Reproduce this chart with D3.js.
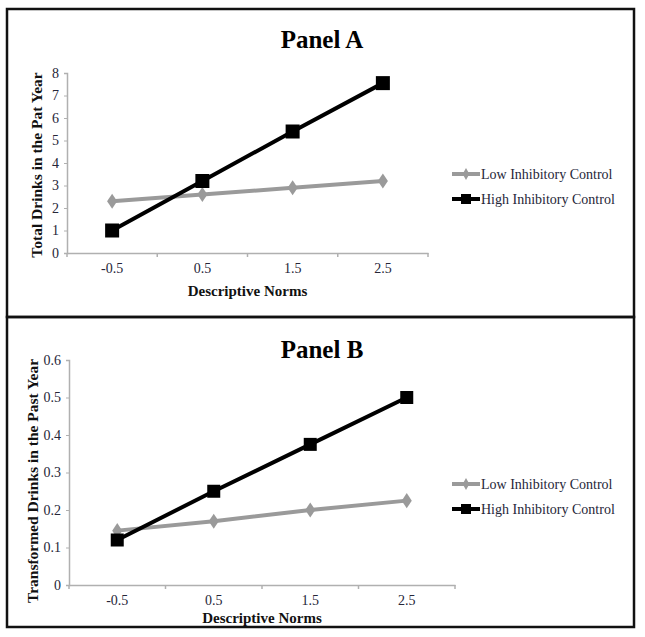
<!DOCTYPE html>
<html>
<head>
<meta charset="utf-8">
<script src="https://cdn.jsdelivr.net/npm/d3@7/dist/d3.min.js"></script>
<style>
  body { margin: 0; background: #fff; }
  svg { display: block; }
  text { font-family: "Liberation Serif", "Times New Roman", serif; }
</style>
</head>
<body>
<svg id="chart" width="645" height="637"></svg>
<script>
// ---- data ----
const categories = ["-0.5", "0.5", "1.5", "2.5"];
const seriesNames = ["Low Inhibitory Control", "High Inhibitory Control"];
const panelA_low  = [2.3, 2.6, 2.9, 3.2];
const panelA_high = [1.0, 3.2, 5.4, 7.55];
const panelB_low  = [0.145, 0.17, 0.20, 0.225];
const panelB_high = [0.12, 0.25, 0.375, 0.50];
const panelA_yTicks = [0, 1, 2, 3, 4, 5, 6, 7, 8];
const panelB_yTicks = [0, 0.1, 0.2, 0.3, 0.4, 0.5, 0.6];
const panelTitles = ["Panel A", "Panel B"];
const xTitle = "Descriptive Norms";
const yTitles = ["Total Drinks in the Pat Year", "Transformed Drinks in the Past Year"];

const svg = d3.select("#chart");

const panels = [
  { title: panelTitles[0], low: panelA_low, high: panelA_high, yTicks: panelA_yTicks, yMax: 8,
    yTitle: yTitles[0], box: [7, 9, 627, 308],
    x0: 67, x1: 428, yBot: 253, yTop: 73, titleY: 48, xTickY: 273, xTitleY: 296,
    yTitleX: 42, yTitleC: 165, yTitleFs: 15.5,
    legX: 452, legY: [174, 199], markerSq: 14, markerDia: 11 },
  { title: panelTitles[1], low: panelB_low, high: panelB_high, yTicks: panelB_yTicks, yMax: 0.6,
    yTitle: yTitles[1], box: [7, 317, 627, 310],
    x0: 69, x1: 455, yBot: 585, yTop: 360, titleY: 358, xTickY: 605, xTitleY: 623,
    yTitleX: 38, yTitleC: 481, yTitleFs: 15.5,
    legX: 452, legY: [484, 509], markerSq: 13, markerDia: 11 }
];

const lowColor = "#9a9a9a";
const highColor = "#000";
const tickText = "#262638";

panels.forEach(p => {
  const g = svg.append("g");
  // border
  g.append("rect")
    .attr("x", p.box[0]).attr("y", p.box[1])
    .attr("width", p.box[2]).attr("height", p.box[3])
    .attr("fill", "none").attr("stroke", "#111").attr("stroke-width", 2.5);

  const x = d3.scaleBand().domain(categories).range([p.x0, p.x1]).padding(0);
  const y = d3.scaleLinear().domain([0, p.yMax]).range([p.yBot, p.yTop]);

  // title
  g.append("text").attr("x", 322).attr("y", p.titleY)
    .attr("text-anchor", "middle").attr("font-size", 25).attr("font-weight", "bold")
    .attr("fill", "#000").text(p.title);

  // x axis
  const xAxis = g.append("g").attr("transform", `translate(0,${p.yBot})`)
    .call(d3.axisBottom(x).tickSize(0));
  xAxis.select(".domain").attr("stroke", "#b0b0b0").attr("stroke-width", 1.5);
  xAxis.selectAll("text").attr("font-size", 14).attr("fill", tickText)
    .attr("dy", null).attr("y", p.xTickY - p.yBot)
    .style("font-family", '"Liberation Serif", serif');
  // boundary ticks
  const edges = categories.map(c => x(c)).concat([x(categories[categories.length - 1]) + x.bandwidth()]);
  g.selectAll(".xedge").data(edges).enter().append("line")
    .attr("x1", d => d).attr("x2", d => d)
    .attr("y1", p.yBot).attr("y2", p.yBot + 4)
    .attr("stroke", "#b0b0b0").attr("stroke-width", 1.5);

  // y axis
  const yAxis = g.append("g").attr("transform", `translate(${p.x0},0)`)
    .call(d3.axisLeft(y).tickValues(p.yTicks).tickSize(3).tickPadding(5)
      .tickFormat(d => d === 0 ? "0" : (p.yMax < 1 ? d3.format(".1f")(d) : d3.format("d")(d))));
  yAxis.select(".domain").attr("stroke", "#b0b0b0").attr("stroke-width", 1.5);
  yAxis.selectAll(".tick line").attr("stroke", "#b0b0b0");
  yAxis.selectAll("text").attr("font-size", 14).attr("fill", tickText)
    .style("font-family", '"Liberation Serif", serif');

  // axis titles
  g.append("text").attr("x", (p.x0 + p.x1) / 2).attr("y", p.xTitleY)
    .attr("text-anchor", "middle").attr("font-size", 15).attr("font-weight", "bold")
    .attr("fill", "#111").text(xTitle);
  g.append("text")
    .attr("transform", `translate(${p.yTitleX},${p.yTitleC}) rotate(-90)`)
    .attr("text-anchor", "middle").attr("font-size", p.yTitleFs).attr("font-weight", "bold")
    .attr("fill", "#111").text(p.yTitle);

  const cx = c => x(c) + x.bandwidth() / 2;
  const line = d3.line().x((d, i) => cx(categories[i])).y(d => y(d));

  // low series
  g.append("path").datum(p.low).attr("d", line)
    .attr("fill", "none").attr("stroke", lowColor).attr("stroke-width", 4);
  const dia = d3.symbol().type(d3.symbolDiamond).size(p.markerDia * p.markerDia * 0.55);
  g.selectAll(".lowpt").data(p.low).enter().append("path")
    .attr("d", dia)
    .attr("transform", (d, i) => `translate(${cx(categories[i])},${y(d)}) scale(1.15,1)`)
    .attr("fill", lowColor);

  // high series
  g.append("path").datum(p.high).attr("d", line)
    .attr("fill", "none").attr("stroke", highColor).attr("stroke-width", 4);
  g.selectAll(".highpt").data(p.high).enter().append("rect")
    .attr("x", (d, i) => cx(categories[i]) - p.markerSq / 2)
    .attr("y", d => y(d) - p.markerSq / 2)
    .attr("width", p.markerSq).attr("height", p.markerSq)
    .attr("fill", highColor);

  // legend
  const colors = [lowColor, highColor];
  seriesNames.forEach((name, i) => {
    const ly = p.legY[i];
    g.append("line").attr("x1", p.legX).attr("x2", p.legX + 28)
      .attr("y1", ly).attr("y2", ly)
      .attr("stroke", colors[i]).attr("stroke-width", 4);
    if (i === 0) {
      g.append("path").attr("d", d3.symbol().type(d3.symbolDiamond).size(40))
        .attr("transform", `translate(${p.legX + 14},${ly})`).attr("fill", colors[i]);
    } else {
      g.append("rect").attr("x", p.legX + 9).attr("y", ly - 5)
        .attr("width", 10).attr("height", 10).attr("fill", colors[i]);
    }
    g.append("text").attr("x", p.legX + 29).attr("y", ly + 5)
      .attr("font-size", 14).attr("fill", tickText).text(name);
  });
});
</script>
</body>
</html>
